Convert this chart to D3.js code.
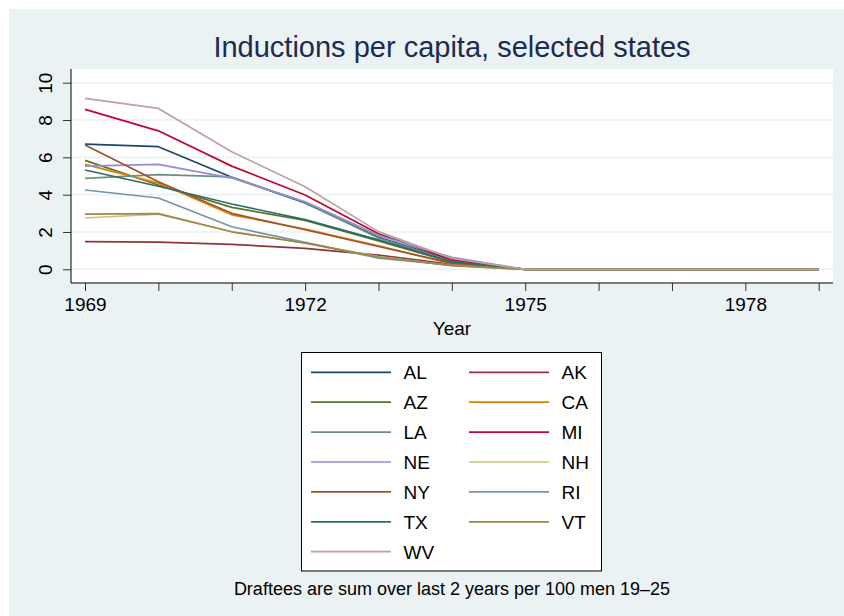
<!DOCTYPE html>
<html>
<head>
<meta charset="utf-8">
<title>Inductions per capita</title>
<script src="https://cdn.jsdelivr.net/npm/d3@7"></script>
<style>
  body { margin: 0; background: #fff; }
  text { font-family: "Liberation Sans", Arial, sans-serif; }
</style>
</head>
<body>
<div id="container"></div>
<script>

// data
const years = [1969, 1970, 1971, 1972, 1973, 1974, 1975, 1976, 1977, 1978, 1979];
const xTickLabels = [1969, 1972, 1975, 1978];
const yTicks = [0, 2, 4, 6, 8, 10];
const states = ["AL", "AK", "AZ", "CA", "LA", "MI", "NE", "NH", "NY", "RI", "TX", "VT", "WV"];

const AL = [6.71, 6.57, 4.93, 3.55, 1.72, 0.48, 0, 0, 0, 0, 0];
const AK = [1.48, 1.46, 1.34, 1.12, 0.76, 0.26, 0, 0, 0, 0, 0];
const AZ = [5.84, 4.52, 3.32, 2.62, 1.52, 0.38, 0, 0, 0, 0, 0];
const CA = [5.62, 4.62, 2.92, 2.16, 1.26, 0.30, 0, 0, 0, 0, 0];
const LA = [4.87, 5.07, 4.95, 3.58, 1.68, 0.44, 0, 0, 0, 0, 0];
const MI = [8.57, 7.42, 5.53, 3.98, 1.90, 0.52, 0, 0, 0, 0, 0];
const NE = [5.53, 5.62, 4.89, 3.62, 1.82, 0.64, 0, 0, 0, 0, 0];
const NH = [2.75, 2.96, 2.01, 1.42, 0.68, 0.20, 0, 0, 0, 0, 0];
const NY = [6.66, 4.69, 3.00, 2.12, 1.22, 0.33, 0, 0, 0, 0, 0];
const RI = [4.25, 3.82, 2.28, 1.44, 0.60, 0.22, 0, 0, 0, 0, 0];
const TX = [5.32, 4.45, 3.50, 2.66, 1.58, 0.40, 0, 0, 0, 0, 0];
const VT = [2.96, 2.98, 2.01, 1.40, 0.66, 0.20, 0, 0, 0, 0, 0];
const WV = [9.16, 8.62, 6.30, 4.42, 2.02, 0.58, 0, 0, 0, 0, 0];

const values = { AL, AK, AZ, CA, LA, MI, NE, NH, NY, RI, TX, VT, WV };

// stata s2color palette
const colors = ["#1a476f", "#90353b", "#55752f", "#e37e00", "#6e8e84", "#c10534",
  "#938dd2", "#cac27e", "#a0522d", "#7b92a8", "#2d6d66", "#9c8847", "#bfa19c"];

const width = 844, height = 616;
const plot = { left: 71, right: 833, top: 69, bottom: 283 };

const svg = d3.select("#container")
  .append("svg")
  .attr("width", width)
  .attr("height", height);

// graph region
svg.append("rect")
  .attr("x", 9).attr("y", 9)
  .attr("width", width - 9).attr("height", height - 9)
  .attr("fill", "#eaf2f3");

svg.append("rect")
  .attr("x", plot.left).attr("y", plot.top)
  .attr("width", plot.right - plot.left).attr("height", plot.bottom - plot.top)
  .attr("fill", "#fff");

const x = d3.scaleLinear().domain([1969, 1979]).range([85, 818.7]);
const y = d3.scaleLinear().domain([0, 10]).range([269.3, 82.7]);

// gridlines
svg.append("g")
  .selectAll("line")
  .data(yTicks)
  .enter()
  .append("line")
  .attr("x1", plot.left).attr("x2", plot.right)
  .attr("y1", d => y(d)).attr("y2", d => y(d))
  .attr("stroke", "#eaf2f3")
  .attr("stroke-width", 1.6);

// series
const line = d3.line()
  .x((d, i) => x(years[i]))
  .y(d => y(d));

svg.append("g")
  .selectAll("path")
  .data(states)
  .enter()
  .append("path")
  .attr("d", s => line(values[s]))
  .attr("fill", "none")
  .attr("stroke", (s, i) => colors[i])
  .attr("stroke-width", 1.7)
  .attr("stroke-linejoin", "round");

// axes
const xAxis = d3.axisBottom(x)
  .tickValues(years)
  .tickSize(8)
  .tickSizeOuter(0)
  .tickFormat(d => xTickLabels.includes(d) ? d : "");

const gx = svg.append("g")
  .attr("transform", "translate(0," + plot.bottom + ")")
  .call(xAxis);
gx.select(".domain").remove();
gx.selectAll(".tick line").attr("stroke", "#333");
gx.selectAll(".tick text")
  .attr("y", 28)
  .attr("dy", 0)
  .attr("fill", "#000")
  .style("font-size", "19px")
  .style("font-family", "'Liberation Sans', Arial, sans-serif");

const yAxis = d3.axisLeft(y)
  .tickValues(yTicks)
  .tickSize(8)
  .tickSizeOuter(0);

const gy = svg.append("g")
  .attr("transform", "translate(" + plot.left + ",0)")
  .call(yAxis);
gy.select(".domain").remove();
gy.selectAll(".tick line").attr("stroke", "#333");
gy.selectAll(".tick text")
  .attr("x", 0).attr("dy", 0)
  .attr("transform", "translate(-19.5,0) rotate(-90)")
  .attr("text-anchor", "middle")
  .attr("fill", "#000")
  .style("font-size", "19px")
  .style("font-family", "'Liberation Sans', Arial, sans-serif");

svg.append("line")
  .attr("x1", plot.left).attr("x2", plot.left)
  .attr("y1", plot.top).attr("y2", plot.bottom)
  .attr("stroke", "#000");
svg.append("line")
  .attr("x1", plot.left).attr("x2", plot.right)
  .attr("y1", plot.bottom).attr("y2", plot.bottom)
  .attr("stroke", "#000");

// titles
svg.append("text")
  .attr("x", 452).attr("y", 57)
  .attr("text-anchor", "middle")
  .attr("fill", "#1c2b4f")
  .style("font-size", "29px")
  .text("Inductions per capita, selected states");

svg.append("text")
  .attr("x", 452).attr("y", 335)
  .attr("text-anchor", "middle")
  .style("font-size", "19px")
  .text("Year");

// legend
const legend = svg.append("g");
legend.append("rect")
  .attr("x", 301.5).attr("y", 352.5)
  .attr("width", 300).attr("height", 218.5)
  .attr("fill", "#fff")
  .attr("stroke", "#000");

const items = legend.selectAll("g.item")
  .data(states)
  .enter()
  .append("g")
  .attr("class", "item")
  .attr("transform", (s, i) => "translate(" + (i % 2 ? 469 : 311) + "," + (372.3 + Math.floor(i / 2) * 29.9) + ")");

items.append("line")
  .attr("x1", 0).attr("x2", 80)
  .attr("stroke", (s, i) => colors[i])
  .attr("stroke-width", 1.7);

items.append("text")
  .attr("x", 92.5).attr("y", 7)
  .style("font-size", "19px")
  .text(s => s);

svg.append("text")
  .attr("x", 452).attr("y", 595)
  .attr("text-anchor", "middle")
  .style("font-size", "18px")
  .text("Draftees are sum over last 2 years per 100 men 19\u201325");

</script>
</body>
</html>
